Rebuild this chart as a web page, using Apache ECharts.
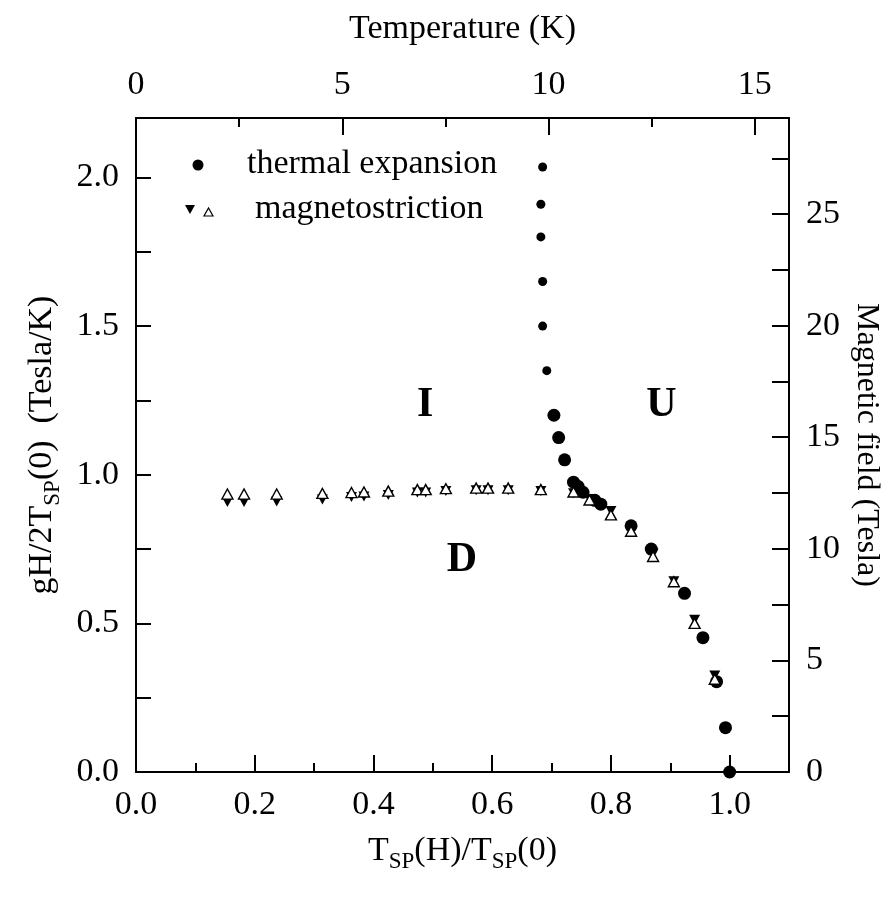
<!DOCTYPE html>
<html><head><meta charset="utf-8">
<script src="https://cdn.jsdelivr.net/npm/echarts/dist/echarts.min.js"></script>
<style>html,body{margin:0;padding:0;background:#fff}#c{width:895px;height:909px}</style>
</head><body><div id="c"></div>
<script>
// ---- data (x = T_SP(H)/T_SP(0), y = gH/2T_SP(0)) ----
const thermalExpansion = [
  [0.685, 2.035], [0.682, 1.910], [0.682, 1.800], [0.685, 1.650], [0.685, 1.500],
  [0.692, 1.350], [0.704, 1.200], [0.712, 1.125], [0.722, 1.050], [0.737, 0.975],
  [0.745, 0.960], [0.753, 0.941], [0.773, 0.914], [0.783, 0.901], [0.834, 0.828],
  [0.868, 0.750], [0.924, 0.601], [0.955, 0.452], [0.978, 0.304], [0.993, 0.149],
  [1.000, 0.000]
];
const magnetostrictionOpenUp = [
  [0.154, 0.935], [0.182, 0.935], [0.237, 0.935], [0.314, 0.937], [0.363, 0.940],
  [0.384, 0.942], [0.425, 0.945], [0.474, 0.950], [0.488, 0.950], [0.522, 0.953],
  [0.573, 0.955], [0.593, 0.955], [0.627, 0.955], [0.682, 0.950], [0.737, 0.942],
  [0.764, 0.915], [0.800, 0.865], [0.834, 0.810], [0.871, 0.725], [0.906, 0.640],
  [0.941, 0.500], [0.975, 0.312]
];
const magnetostrictionFilledDown = [
  [0.154, 0.908], [0.182, 0.908], [0.237, 0.910], [0.314, 0.917], [0.363, 0.925],
  [0.384, 0.927], [0.425, 0.932], [0.474, 0.940], [0.488, 0.940], [0.522, 0.945],
  [0.573, 0.948], [0.593, 0.948], [0.627, 0.948], [0.682, 0.945], [0.737, 0.938],
  [0.764, 0.918], [0.800, 0.878], [0.834, 0.818], [0.871, 0.735], [0.906, 0.642],
  [0.941, 0.512], [0.975, 0.325]
];
const regionLabels = [['I', 0.487, 1.234], ['U', 0.885, 1.234], ['D', 0.549, 0.713]];
const legendNames = ['thermal expansion', 'magnetostriction'];

// axis ranges
const X_MAX = 1.1, Y_MAX = 2.2;
const TSP0 = 14.39;          // K  (top axis scale)
const TESLA_PER_UNIT = 13.32; // right axis scale

const FONT = '"Liberation Serif","Times New Roman",serif';
const FS = 34;
const black = '#000';
const lineW = 2;

function axisBase(extra) {
  return Object.assign({
    type: 'value', gridIndex: 0,
    splitLine: { show: false },
    axisLine: { show: true, onZero: false, lineStyle: { color: black, width: lineW } },
    axisTick: { show: true, inside: true, lineStyle: { color: black, width: lineW } },
    axisLabel: { show: true, color: black, fontFamily: FONT, fontSize: FS, margin: 16, showMaxLabel: false },
    nameTextStyle: { color: black, fontFamily: FONT, fontSize: FS }
  }, extra);
}
const sub = { fontFamily: FONT, fontSize: 23, color: black, padding: [21, 0, 0, 0] };
const base = { fontFamily: FONT, fontSize: FS, color: black };

const chart = echarts.init(document.getElementById('c'), null, { renderer: 'canvas' });
chart.setOption({
  animation: false,
  backgroundColor: '#fff',
  grid: { left: 136, right: 106, top: 118, bottom: 137, containLabel: false, outerBoundsMode: 'none' },
  xAxis: [
    axisBase({
      position: 'bottom', min: 0, max: X_MAX, interval: 0.2,
      axisTick: { show: true, inside: true, length: 17, lineStyle: { color: black, width: lineW } },
      axisLabel: { color: black, fontFamily: FONT, fontSize: FS, margin: 16, showMaxLabel: false,
        formatter: v => v.toFixed(1) },
      name: '{a|T}{s|SP}{a|(H)/T}{s|SP}{a|(0)}', nameLocation: 'middle', nameGap: 57,
      nameTextStyle: { rich: { a: base, s: sub } }
    }),
    axisBase({
      position: 'bottom', min: 0, max: X_MAX, interval: 0.1,
      axisLine: { show: false, onZero: false },
      axisTick: { show: true, inside: true, length: 9, lineStyle: { color: black, width: lineW } },
      axisLabel: { show: false }
    }),
    axisBase({
      position: 'top', min: 0, max: X_MAX * TSP0, interval: 5,
      axisTick: { show: true, inside: true, length: 17, lineStyle: { color: black, width: lineW } },
      axisLabel: { color: black, fontFamily: FONT, fontSize: FS, margin: 16, showMaxLabel: false },
      name: 'Temperature (K)', nameLocation: 'middle', nameGap: 72,
      nameTextStyle: { color: black, fontFamily: FONT, fontSize: FS }
    }),
    axisBase({
      position: 'top', min: 0, max: X_MAX * TSP0, interval: 2.5,
      axisLine: { show: false, onZero: false },
      axisTick: { show: true, inside: true, length: 9, lineStyle: { color: black, width: lineW } },
      axisLabel: { show: false }
    })
  ],
  yAxis: [
    axisBase({
      position: 'left', min: 0, max: Y_MAX, interval: 0.25,
      axisTick: { show: true, inside: true, length: 15, lineStyle: { color: black, width: lineW } },
      axisLabel: { color: black, fontFamily: FONT, fontSize: FS, margin: 17, showMaxLabel: false,
        formatter: v => (Math.abs(v * 2 - Math.round(v * 2)) < 1e-6 ? v.toFixed(1) : '') },
      name: '{a|gH/2T}{s|SP}{a|(0)  (Tesla/K)}', nameLocation: 'middle', nameGap: 72, nameRotate: 90,
      nameTextStyle: { rich: { a: base, s: sub } }
    }),
    axisBase({
      position: 'right', min: 0, max: Y_MAX * TESLA_PER_UNIT, interval: 2.5,
      axisTick: { show: true, inside: true, length: 17, lineStyle: { color: black, width: lineW } },
      axisLabel: { color: black, fontFamily: FONT, fontSize: FS, margin: 17, showMaxLabel: false,
        formatter: v => (Math.abs(v / 5 - Math.round(v / 5)) < 1e-6 ? String(Math.round(v)) : '') },
      name: 'Magnetic field (Tesla)', nameLocation: 'middle', nameGap: 44, nameRotate: -90,
      nameTextStyle: { color: black, fontFamily: FONT, fontSize: 32 }
    })
  ],
  series: [
    {
      name: legendNames[0], type: 'scatter', xAxisIndex: 0, yAxisIndex: 0, z: 2,
      symbol: 'circle', symbolSize: v => (v[1] > 1.3 ? 9 : 13),
      itemStyle: { color: black, opacity: 1 }, data: thermalExpansion
    },
    {
      name: legendNames[1] + ' (down)', type: 'scatter', xAxisIndex: 0, yAxisIndex: 0, z: 3,
      symbol: 'triangle', symbolRotate: 180, symbolSize: [11, 10],
      itemStyle: { color: black, opacity: 1 }, data: magnetostrictionFilledDown
    },
    {
      name: legendNames[1] + ' (up)', type: 'scatter', xAxisIndex: 0, yAxisIndex: 0, z: 4,
      symbol: 'triangle', symbolSize: [11, 10],
      itemStyle: { color: '#fff', borderColor: black, borderWidth: 1.4, opacity: 1 }, data: magnetostrictionOpenUp
    },
    {
      name: 'regions', type: 'scatter', xAxisIndex: 0, yAxisIndex: 0, z: 5,
      symbolSize: 1, itemStyle: { color: 'rgba(0,0,0,0)', opacity: 1 },
      label: { show: true, position: 'inside', formatter: p => p.data[2], opacity: 1,
        fontFamily: FONT, fontSize: 42, fontWeight: 'bold', color: black },
      data: regionLabels.map(r => [r[1], r[2], r[0]])
    }
  ],
  graphic: [
    { type: 'circle', shape: { cx: 198, cy: 165, r: 5.5 }, style: { fill: black } },
    { type: 'text', x: 247, y: 164, style: { text: legendNames[0], font: FS + 'px ' + FONT, fill: black, verticalAlign: 'middle' } },
    { type: 'polygon', shape: { points: [[185, 205], [195, 205], [190, 214]] }, style: { fill: black } },
    { type: 'polygon', shape: { points: [[204, 216], [213, 216], [208.5, 208]] }, style: { fill: '#fff', stroke: black, lineWidth: 1.2 } },
    { type: 'text', x: 255, y: 209, style: { text: legendNames[1], font: FS + 'px ' + FONT, fill: black, verticalAlign: 'middle' } }
  ]
});
</script>
</body></html>
